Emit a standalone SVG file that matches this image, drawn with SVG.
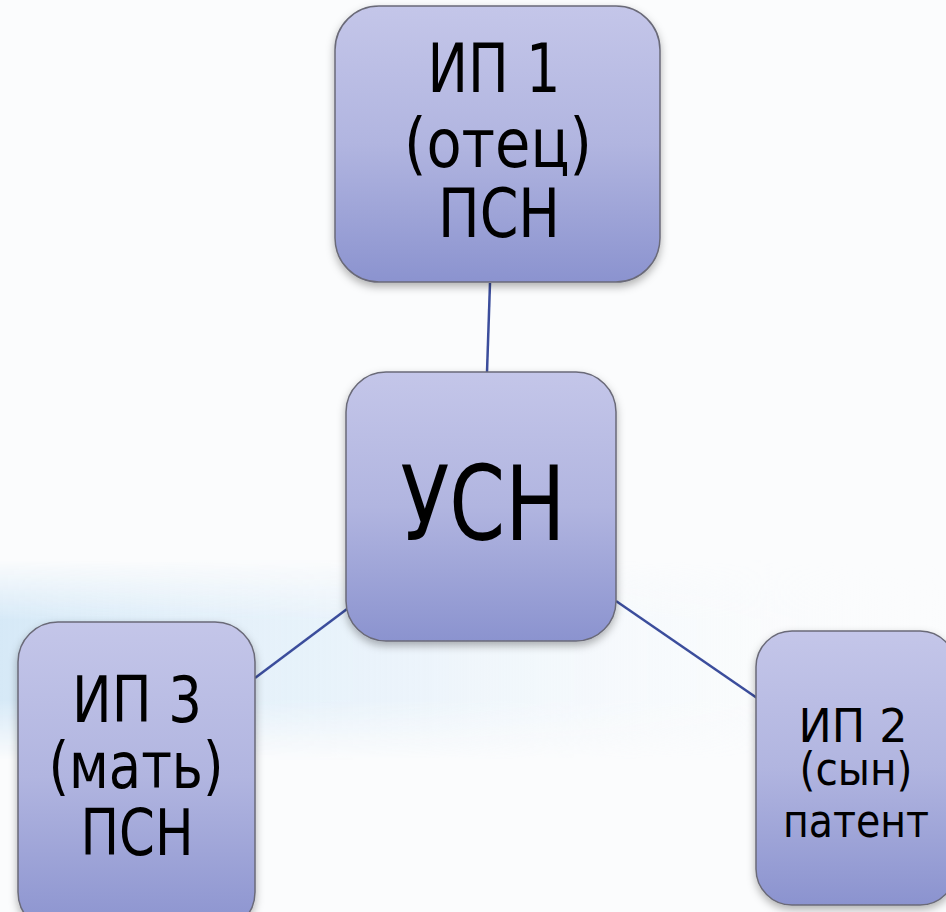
<svg xmlns="http://www.w3.org/2000/svg" width="946" height="912" viewBox="0 0 946 912">
<defs>
<linearGradient id="nodeFill" x1="0" y1="0" x2="0" y2="1">
<stop offset="0" stop-color="#c4c6e9"/>
<stop offset="0.5" stop-color="#b1b5e0"/>
<stop offset="1" stop-color="#8b93cf"/>
</linearGradient>
<linearGradient id="band" x1="0" y1="0" x2="1" y2="0">
<stop offset="0" stop-color="#d6e9f7" stop-opacity="1"/>
<stop offset="0.45" stop-color="#e6f1fa" stop-opacity="0.7"/>
<stop offset="1" stop-color="#ffffff" stop-opacity="0"/>
</linearGradient>
<linearGradient id="bandV" x1="0" y1="0" x2="0" y2="1">
<stop offset="0" stop-color="#fff" stop-opacity="0"/>
<stop offset="0.3" stop-color="#fff" stop-opacity="1"/>
<stop offset="0.7" stop-color="#fff" stop-opacity="1"/>
<stop offset="1" stop-color="#fff" stop-opacity="0"/>
</linearGradient>
<mask id="bandMask"><rect x="0" y="560" width="946" height="200" fill="url(#bandV)"/></mask>
<filter id="shadow" x="-10%" y="-10%" width="120%" height="125%">
<feDropShadow dx="0" dy="4" stdDeviation="4" flood-color="#000" flood-opacity="0.3"/>
</filter>
<style>
.box{fill:url(#nodeFill);stroke:#6a6a78;stroke-width:1.5;filter:url(#shadow)}
.lbl{font-family:"DejaVu Sans","Open Sans",sans-serif;fill:#000;text-anchor:middle}
.conn{stroke:#3b4d9c;stroke-width:2.5;fill:none}
</style>
</defs>
<rect width="946" height="912" fill="#fbfcfd"/>
<rect x="0" y="560" width="946" height="200" fill="url(#band)" mask="url(#bandMask)"/>
<g id="connectors">
<line class="conn" x1="490" y1="283" x2="487" y2="372"/>
<line class="conn" x1="255" y1="678" x2="347" y2="609"/>
<line class="conn" x1="616" y1="601" x2="757" y2="698"/>
</g>
<g id="node-ip1">
<rect class="box" x="335" y="6" width="325" height="276" rx="44"/>
<text class="lbl" font-size="67" x="494" y="92" textLength="133" lengthAdjust="spacingAndGlyphs">ИП 1</text>
<text class="lbl" font-size="67" x="498" y="167" textLength="188" lengthAdjust="spacingAndGlyphs">(отец)</text>
<text class="lbl" font-size="67" x="499" y="237" textLength="122" lengthAdjust="spacingAndGlyphs">ПСН</text>
</g>
<g id="node-usn">
<rect class="box" x="346" y="372" width="270" height="269" rx="40"/>
<text class="lbl" font-size="103" x="483" y="540" textLength="165" lengthAdjust="spacingAndGlyphs">УСН</text>
</g>
<g id="node-ip3">
<rect class="box" x="18" y="622" width="237" height="310" rx="40"/>
<text class="lbl" font-size="64" x="137" y="722" textLength="130" lengthAdjust="spacingAndGlyphs">ИП 3</text>
<text class="lbl" font-size="64" x="136" y="788" textLength="175" lengthAdjust="spacingAndGlyphs">(мать)</text>
<text class="lbl" font-size="64" x="137" y="855" textLength="113" lengthAdjust="spacingAndGlyphs">ПСН</text>
</g>
<g id="node-ip2">
<rect class="box" x="756" y="631" width="200" height="274" rx="36"/>
<text class="lbl" font-size="47" x="853" y="742" textLength="109" lengthAdjust="spacingAndGlyphs">ИП 2</text>
<text class="lbl" font-size="47" x="856" y="785" textLength="113" lengthAdjust="spacingAndGlyphs">(сын)</text>
<text class="lbl" font-size="47" x="856" y="837" textLength="146" lengthAdjust="spacingAndGlyphs">патент</text>
</g>
</svg>
